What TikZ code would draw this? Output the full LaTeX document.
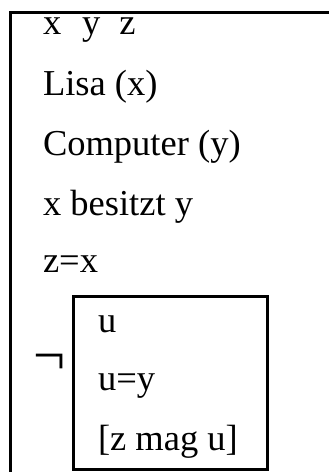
\documentclass[tikz,border=0pt]{standalone}
\usepackage{fontspec}
\setmainfont{Liberation Serif}
\usetikzlibrary{positioning}
\newcommand{\drsfont}{\fontsize{36.5}{44}\selectfont}

\begin{document}
\begin{tikzpicture}[
    x=1pt, y=-1pt,
    cond/.style={anchor=base west, inner sep=0pt, outer sep=0pt, font=\drsfont, text=black},
    frame/.style={draw=black, line width=3pt},
    subbox/.style={draw=black, line width=2.5pt, minimum width=194pt, minimum height=173pt, inner sep=0pt, anchor=north west}
  ]
    \useasboundingbox (0,0) rectangle (329,472);
    % outer box (open to the right and below)
    \draw[frame] (10.5,480) -- (10.5,12) -- (340,12);
    \node[cond] (refs)  at (43,34)  {x\hspace{21pt}y\hspace{19pt}z};
    \node[cond] (lisa)  at (43,95.5) {Lisa (x)};
    \node[cond] (comp)  at (43,155) {Computer (y)};
    \node[cond] (bes)   at (43,215) {x besitzt y};
    \node[cond] (eq)    at (43,272) {z=x};
    % negated sub-box
    \node[subbox] (sub) at (72,295) {};
    \node[cond, font=\fontsize{57}{60}\selectfont] (neg) at (33,374) {¬};
    \node[cond] (uref)  at (98,332) {u};
    \node[cond] (ueq)   at (98,390) {u=y};
    \node[cond] (mag)   at (98,450) {[z mag u]};
  \end{tikzpicture}
\end{document}
